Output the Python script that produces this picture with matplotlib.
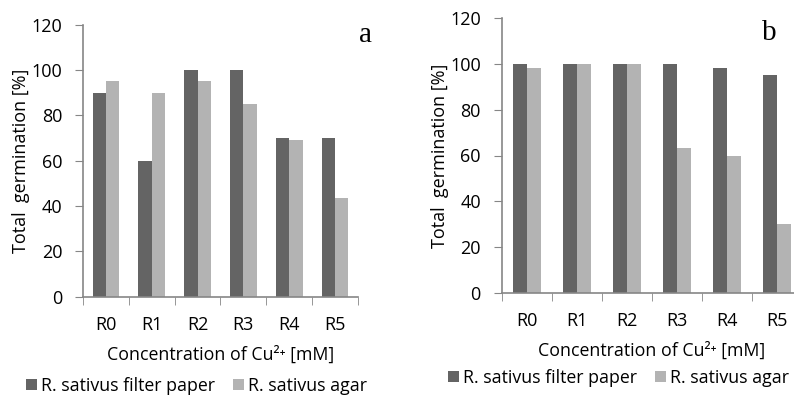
import numpy as np
import matplotlib.pyplot as plt

# Total germination of R. sativus under Cu2+ stress, two experiments
doses = ['R0', 'R1', 'R2', 'R3', 'R4', 'R5']
paper_a = [90, 60, 100, 100, 70, 70]
agar_a = [95, 90, 95, 85, 69, 43.5]
paper_b = [100, 100, 100, 100, 98.3, 95]
agar_b = [98.3, 100, 100, 63.3, 60, 30]

dark = '#646464'
light = '#b3b3b3'
axis_col = '#868686'

plt.rcParams['font.family'] = ['Open Sans', 'DejaVu Sans']

fig = plt.figure(figsize=(7.94, 3.95), dpi=100)
ax1 = fig.add_axes([83 / 794, 98.3 / 395, 275 / 794, 272.2 / 395])
ax2 = fig.add_axes([501.7 / 794, 102.3 / 395, 300 / 794, 274.4 / 395])


def panel(ax, paper, agar, w, tag, tag_x, tag_y):
    x = np.arange(len(doses))
    ax.bar(x - w / 2, paper, w, color=dark, label='R. sativus filter paper')
    ax.bar(x + w / 2, agar, w, color=light, label='R. sativus agar')
    ax.set_xlim(-0.5, 5.5)
    ax.set_ylim(0, 120)
    ax.set_yticks(range(0, 121, 20))
    ax.set_xticks(x)
    ax.set_xticklabels(doses)
    ax.set_xticks(np.arange(-0.5, 6, 1), minor=True)
    ax.tick_params(axis='x', which='major', length=0, pad=14, labelsize=13)
    ax.tick_params(axis='x', which='minor', length=6, color=axis_col, direction='out')
    ax.tick_params(axis='y', length=6, color=axis_col, direction='out', pad=9, labelsize=13)
    for s in ['top', 'right']:
        ax.spines[s].set_visible(False)
    for s in ['left', 'bottom']:
        ax.spines[s].set_color(axis_col)
        ax.spines[s].set_linewidth(1.2)
    ax.set_xlabel('Concentration of Cu²⁺ [mM]', fontsize=12.8, labelpad=8)
    ax.set_ylabel('Total  germination [%]', fontsize=13, labelpad=1)
    ax.annotate(tag, xy=(tag_x, tag_y), xycoords='figure pixels', fontsize=21,
                family='Liberation Serif', ha='center', va='center')


panel(ax1, paper_a, agar_a, 0.29, 'a', 365, 395 - 35)
panel(ax2, paper_b, agar_b, 0.28, 'b', 769, 395 - 33)

ax1.legend(loc='center', bbox_to_anchor=(196.5 / 794, 9 / 395),
           bbox_transform=fig.transFigure, ncol=2, frameon=False,
           fontsize=12.8, handlelength=0.6, handleheight=0.6,
           handletextpad=0.25, columnspacing=1.0)
ax2.legend(loc='center', bbox_to_anchor=(618.5 / 794, 17 / 395),
           bbox_transform=fig.transFigure, ncol=2, frameon=False,
           fontsize=12.8, handlelength=0.6, handleheight=0.6,
           handletextpad=0.25, columnspacing=1.0)

fig.savefig('out.png', dpi=100)
